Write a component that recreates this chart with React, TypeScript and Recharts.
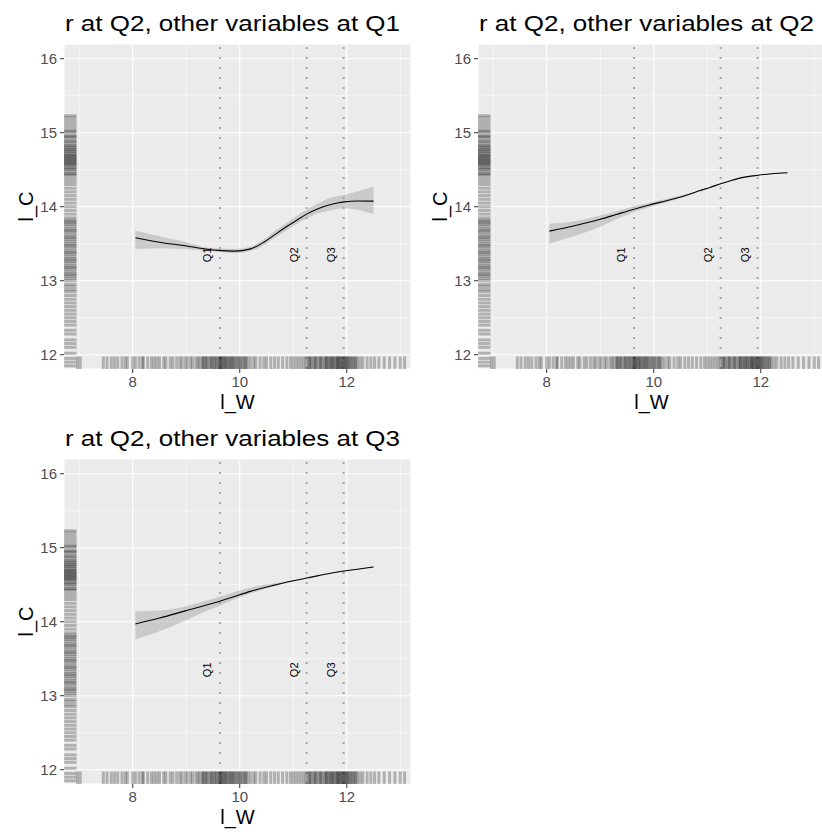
import { Area, CartesianGrid, ComposedChart, Line, ReferenceLine, Scatter, XAxis, YAxis } from "recharts";

const gridW = [8.05, 8.5, 9.0, 9.3, 9.6, 9.9, 10.2, 10.45, 10.65, 10.85, 11.05, 11.25, 11.45, 11.7, 11.95, 12.2, 12.5];

// other variables at Q1
const fitQ1 = [13.58, 13.52, 13.47, 13.435, 13.41, 13.4, 13.43, 13.52, 13.62, 13.72, 13.81, 13.9, 13.97, 14.03, 14.065, 14.078, 14.075];
const loQ1 = [13.43, 13.44, 13.43, 13.41, 13.39, 13.37, 13.4, 13.48, 13.58, 13.67, 13.76, 13.84, 13.91, 13.95, 13.98, 13.96, 13.9];
const hiQ1 = [13.68, 13.6, 13.52, 13.46, 13.435, 13.43, 13.46, 13.56, 13.67, 13.77, 13.87, 13.96, 14.04, 14.12, 14.16, 14.21, 14.27];

// other variables at Q2
const fitQ2 = [13.67, 13.74, 13.83, 13.895, 13.96, 14.02, 14.075, 14.12, 14.165, 14.215, 14.26, 14.31, 14.355, 14.4, 14.425, 14.445, 14.46];
const loQ2 = [13.5, 13.6, 13.73, 13.83, 13.92, 13.99, 14.05, 14.105, 14.155, 14.21, 14.257, 14.307, 14.352, 14.397, 14.422, 14.44, 14.455];
const hiQ2 = [13.77, 13.8, 13.88, 13.94, 14.0, 14.05, 14.1, 14.14, 14.175, 14.22, 14.263, 14.313, 14.358, 14.403, 14.428, 14.45, 14.465];

// other variables at Q3
const fitQ3 = [13.97, 14.05, 14.15, 14.21, 14.27, 14.34, 14.41, 14.46, 14.495, 14.53, 14.56, 14.59, 14.62, 14.655, 14.685, 14.71, 14.74];
const loQ3 = [13.76, 13.87, 14.02, 14.12, 14.21, 14.3, 14.38, 14.44, 14.48, 14.52, 14.555, 14.587, 14.616, 14.65, 14.68, 14.705, 14.735];
const hiQ3 = [14.14, 14.15, 14.21, 14.27, 14.33, 14.4, 14.46, 14.5, 14.52, 14.545, 14.568, 14.595, 14.624, 14.66, 14.69, 14.715, 14.745];

const quartiles = [9.632, 11.25, 11.94];
const quartileNames = ["Q1", "Q2", "Q3"];
const quartileLabelLevel = 13.35;

const xTicks = [8, 10, 12];
const yTicks = [12, 13, 14, 15, 16];
const xMinor = [7, 9, 11, 13];
const yMinor = [12.5, 13.5, 14.5, 15.5];

// rug values for l_W (bottom) and l_C (left)
const rugW = [
  6.97, 7.02, 7.45, 7.52, 7.6, 7.66, 7.72, 7.8, 7.86, 7.9,
  8.0, 8.05, 8.12, 8.18, 8.2, 8.28, 8.35, 8.4, 8.45, 8.5, 8.58, 8.62, 8.7, 8.75, 8.82, 8.88, 8.92, 8.98,
  9.02, 9.08, 9.12, 9.18, 9.22, 9.25, 9.3, 9.31, 9.33, 9.36, 9.38, 9.4, 9.44, 9.46, 9.48, 9.5, 9.53, 9.55,
  9.57, 9.6, 9.62, 9.63, 9.65, 9.66, 9.68, 9.7, 9.72, 9.74, 9.75, 9.78, 9.8, 9.82, 9.84, 9.86, 9.88, 9.9,
  9.93, 9.95, 9.98, 10.0, 10.02, 10.05, 10.08, 10.1, 10.12, 10.15, 10.2, 10.26,
  10.3, 10.38, 10.45, 10.5, 10.58, 10.65, 10.72, 10.8, 10.88, 10.95, 11.0, 11.05, 11.1, 11.15, 11.2, 11.24,
  11.28, 11.3, 11.32, 11.34, 11.38, 11.4, 11.42, 11.44, 11.48, 11.5, 11.52, 11.54, 11.58, 11.6, 11.62,
  11.63, 11.66, 11.68, 11.7, 11.72, 11.74, 11.75, 11.78, 11.8, 11.82, 11.83, 11.85, 11.86, 11.88, 11.9,
  11.92, 11.93, 11.95, 11.97, 11.98, 12.0, 12.02, 12.03, 12.06, 12.08, 12.1, 12.13, 12.15, 12.17, 12.2,
  12.25, 12.3, 12.38, 12.45, 12.52, 12.6, 12.7, 12.8, 12.9, 13.0, 13.08,
];
const rugC = [
  11.85, 11.9, 11.95, 12.02, 12.1, 12.15, 12.2, 12.28, 12.33, 12.4, 12.45, 12.5, 12.55, 12.6, 12.65, 12.7,
  12.75, 12.8, 12.85, 12.88, 12.92, 12.95, 13.0, 13.03, 13.06, 13.08, 13.1, 13.13, 13.16, 13.18, 13.2, 13.23,
  13.26, 13.28, 13.3, 13.33, 13.36, 13.38, 13.4, 13.43, 13.46, 13.48, 13.5, 13.53, 13.56, 13.58, 13.6, 13.63,
  13.66, 13.68, 13.7, 13.73, 13.76, 13.78, 13.8, 13.82, 13.85, 13.9, 13.95, 14.0, 14.05, 14.1, 14.15, 14.2,
  14.25, 14.3, 14.34, 14.38, 14.42, 14.44, 14.45, 14.48, 14.5, 14.52, 14.53, 14.56, 14.57, 14.58, 14.6,
  14.61, 14.62, 14.64, 14.65, 14.66, 14.68, 14.69, 14.7, 14.72, 14.74, 14.75, 14.77, 14.78, 14.8, 14.82,
  14.83, 14.86, 14.88, 14.9, 14.93, 14.95, 14.96, 15.0, 15.02, 15.04, 15.08, 15.12, 15.16, 15.2, 15.23,
];

const X_DOMAIN: [number, number] = [6.716, 13.2];
const Y_DOMAIN: [number, number] = [11.807, 16.199];
const FONT = '"Liberation Sans", Arial, Helvetica, sans-serif';

const rugWData = rugW.map((x) => ({ x, y: Y_DOMAIN[0] }));
const rugCData = rugC.map((y) => ({ x: X_DOMAIN[0], y }));
const qLabelData = quartiles.map((x, i) => ({ x, y: quartileLabelLevel, name: quartileNames[i] }));

const RugBottom = (p: any) => (
  <line x1={p.cx} x2={p.cx} y1={p.cy - 12.5} y2={p.cy} stroke="#000" strokeOpacity={0.25} strokeWidth={3} />
);
const RugLeft = (p: any) => (
  <line x1={p.cx} x2={p.cx + 12.5} y1={p.cy} y2={p.cy} stroke="#000" strokeOpacity={0.25} strokeWidth={3} />
);
const QLabel = (p: any) => (
  <text
    x={p.cx - 13}
    y={p.cy}
    transform={`rotate(-90 ${p.cx - 13} ${p.cy})`}
    textAnchor="middle"
    dominantBaseline="central"
    fontSize={11}
    fontFamily={FONT}
    fill="#000"
  >
    {p.payload.name}
  </text>
);

interface PanelProps {
  left: number;
  top: number;
  title: string;
  fit: number[];
  lo: number[];
  hi: number[];
}

function Panel({ left, top, title, fit, lo, hi }: PanelProps) {
  const curve = gridW.map((x, i) => ({ x, y: fit[i] }));
  const band = gridW.map((x, i) => ({ x, band: [lo[i], hi[i]] }));
  return (
    <div style={{ position: "absolute", left, top, width: 411, height: 415 }}>
      <ComposedChart width={411} height={415} margin={{ top: 44, right: 0, bottom: 0, left: 0 }}>
        <CartesianGrid fill="#EBEBEB" stroke="#FFFFFF" strokeWidth={1.1} />
        {xMinor.map((v) => (
          <ReferenceLine key={"xm" + v} x={v} stroke="#FFFFFF" strokeWidth={0.55} zIndex={-90} />
        ))}
        {yMinor.map((v) => (
          <ReferenceLine key={"ym" + v} y={v} stroke="#FFFFFF" strokeWidth={0.55} zIndex={-90} />
        ))}
        <XAxis
          type="number"
          dataKey="x"
          domain={X_DOMAIN}
          allowDataOverflow
          ticks={xTicks}
          axisLine={false}
          tickSize={4}
          tickMargin={3}
          tickLine={{ stroke: "#333333" }}
          tick={{ fill: "#4D4D4D", fontSize: 15, fontFamily: FONT }}
          height={46}
          label={{ value: "l_W", position: "insideBottom", offset: 6, fill: "#000", fontSize: 20, fontFamily: FONT }}
        />
        <YAxis
          type="number"
          dataKey="y"
          domain={Y_DOMAIN}
          allowDataOverflow
          ticks={yTicks}
          axisLine={false}
          tickSize={4}
          tickMargin={3}
          tickLine={{ stroke: "#333333" }}
          tick={{ fill: "#4D4D4D", fontSize: 15, fontFamily: FONT }}
          width={64}
          label={{
            value: "l_C",
            angle: -90,
            position: "insideLeft",
            offset: 26,
            fill: "#000",
            fontSize: 20,
            fontFamily: FONT,
            style: { textAnchor: "middle" },
          }}
        />
        <Scatter data={rugWData} shape={RugBottom} isAnimationActive={false} />
        <Scatter data={rugCData} shape={RugLeft} isAnimationActive={false} />
        <Area
          data={band}
          dataKey="band"
          type="monotone"
          stroke="none"
          fill="#999999"
          fillOpacity={0.4}
          isAnimationActive={false}
        />
        <Line data={curve} dataKey="y" type="monotone" stroke="#000" strokeWidth={1.1} dot={false} isAnimationActive={false} />
        {quartiles.map((q) => (
          <ReferenceLine key={"q" + q} x={q} stroke="#A6A6A6" strokeWidth={2} strokeDasharray="2 8" />
        ))}
        <Scatter data={qLabelData} shape={QLabel} isAnimationActive={false} />
      </ComposedChart>
      <svg width={411} height={44} style={{ position: "absolute", left: 0, top: 0, pointerEvents: "none" }}>
        <text x={65} y={31} fontSize={22} fontFamily={FONT} fill="#000" textLength={335} lengthAdjust="spacingAndGlyphs">
          {title}
        </text>
      </svg>
    </div>
  );
}

export default function App() {
  return (
    <div style={{ position: "absolute", left: 0, top: 0, width: 822, height: 834, overflow: "hidden", background: "#fff" }}>
      <Panel left={0} top={0} title="r at Q2, other variables at Q1" fit={fitQ1} lo={loQ1} hi={hiQ1} />
      <Panel left={414} top={0} title="r at Q2, other variables at Q2" fit={fitQ2} lo={loQ2} hi={hiQ2} />
      <Panel left={0} top={415} title="r at Q2, other variables at Q3" fit={fitQ3} lo={loQ3} hi={hiQ3} />
    </div>
  );
}
